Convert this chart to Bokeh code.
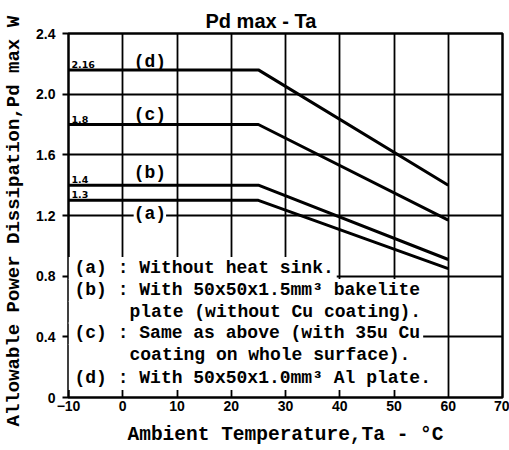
from bokeh.plotting import figure
from bokeh.models import Range1d, FixedTicker, Label
from bokeh.embed import file_html
from bokeh.resources import INLINE

# ---------------- data ----------------
temps = [-10, 25, 60]
pd_a = [1.30, 1.30, 0.85]
pd_b = [1.40, 1.40, 0.91]
pd_c = [1.80, 1.80, 1.17]
pd_d = [2.16, 2.16, 1.40]
series = [pd_a, pd_b, pd_c, pd_d]
curve_names = ["(a)", "(b)", "(c)", "(d)"]
rated_labels = ["1.3", "1.4", "1.8", "2.16"]
x_ticks = [-10, 0, 10, 20, 30, 40, 50, 60, 70]
y_ticks = [0, 0.4, 0.8, 1.2, 1.6, 2.0, 2.4]
y_tick_labels = ["0", "0.4", "0.8", "1.2", "1.6", "2.0", "2.4"]
notes = [
    "(a) : Without heat sink.",
    "(b) : With 50x50x1.5mm\u00b3 bakelite",
    "plate (without Cu coating).",
    "(c) : Same as above (with 35u Cu",
    "coating on whole surface).",
    "(d) : With 50x50x1.0mm\u00b3 Al plate.",
]
chart_title = "Pd max - Ta"
x_title = "Ambient Temperature,Ta - \u00b0C"
y_title = "Allowable Power Dissipation,Pd max  W"

# ---------------- styling ----------------
SANS = "Liberation Sans"
MONO = "Liberation Mono"

p = figure(width=509, height=450, output_backend="svg", toolbar_location=None,
           x_range=Range1d(-10, 70), y_range=Range1d(0, 2.4),
           min_border_left=64, min_border_right=7, min_border_top=33,
           min_border_bottom=53)
p.background_fill_color = "white"
p.border_fill_color = "white"
p.outline_line_color = "black"
p.outline_line_width = 2.5

p.title.text = chart_title
p.title.text_font = SANS
p.title.text_font_style = "bold"
p.title.text_font_size = "20px"
p.title.text_color = "black"
p.title.align = "left"
p.title.offset = 137
p.title.standoff = 4

p.xaxis.ticker = FixedTicker(ticks=x_ticks)
p.yaxis.ticker = FixedTicker(ticks=y_ticks)
p.yaxis.major_label_overrides = {t: s for t, s in zip(y_ticks, y_tick_labels)}
for ax in (p.xaxis, p.yaxis):
    ax.axis_line_color = None
    ax.minor_tick_line_color = None
    ax.major_label_text_font = SANS
    ax.major_label_text_font_style = "bold"
    ax.major_label_text_font_size = "14px"
    ax.major_label_text_color = "black"
    ax.axis_label_text_font = MONO
    ax.axis_label_text_font_style = "bold"
    ax.axis_label_text_color = "black"
p.xaxis.major_tick_line_color = None
p.xaxis.major_tick_out = 0
p.xaxis.major_label_standoff = 3
p.xaxis.axis_label = x_title
p.xaxis.axis_label_text_font_size = "19.5px"
p.xaxis.axis_label_standoff = 10
p.yaxis.major_tick_in = 0
p.yaxis.major_tick_out = 6
p.yaxis.major_tick_line_width = 2
p.yaxis.major_tick_line_color = "black"
p.yaxis.major_label_standoff = 7
p.yaxis.axis_label = y_title
p.yaxis.axis_label_text_font_size = "19px"
p.yaxis.axis_label_standoff = 8

for g in (p.xgrid, p.ygrid):
    g.grid_line_color = "black"
    g.grid_line_width = 1.8
    g.grid_line_alpha = 1.0

# curves
for ys in series:
    p.line(temps, ys, line_color="black", line_width=3, line_join="round")

# rated values at the left end of each curve
for ys, lab in zip(series, rated_labels):
    p.add_layout(Label(x=temps[0] + 0.55, y=ys[0], text=lab, text_font="DejaVu Sans",
                       text_font_style="bold", text_font_size="9.5px",
                       text_baseline="bottom", y_offset=2, text_color="black"))

# curve names
name_y = [1.213, 1.477, 1.86, 2.21]
for nm, yy in zip(curve_names, name_y):
    kw = dict(background_fill_color="white", padding=0) if nm == "(a)" else {}
    p.add_layout(Label(x=5.0, y=yy, text=nm, text_font=MONO, text_font_style="bold",
                       text_font_size="18px", text_align="center", text_baseline="middle",
                       text_color="black", **kw))

# notes block (white background masks the grid behind the text)
note_y = [0.851, 0.705, 0.560, 0.422, 0.277, 0.125]
note_pad_left = [6, 6, 61, 6, 61, 6]
for t, yy, pl in zip(notes, note_y, note_pad_left):
    p.add_layout(Label(x=-10, y=yy, text=t, text_font=MONO, text_font_style="bold",
                       text_font_size="18px", text_baseline="middle",
                       background_fill_color="white",
                       padding=dict(left=pl, right=3, top=1, bottom=2),
                       text_color="black"))

open("out.html", "w").write(file_html(p, INLINE))
